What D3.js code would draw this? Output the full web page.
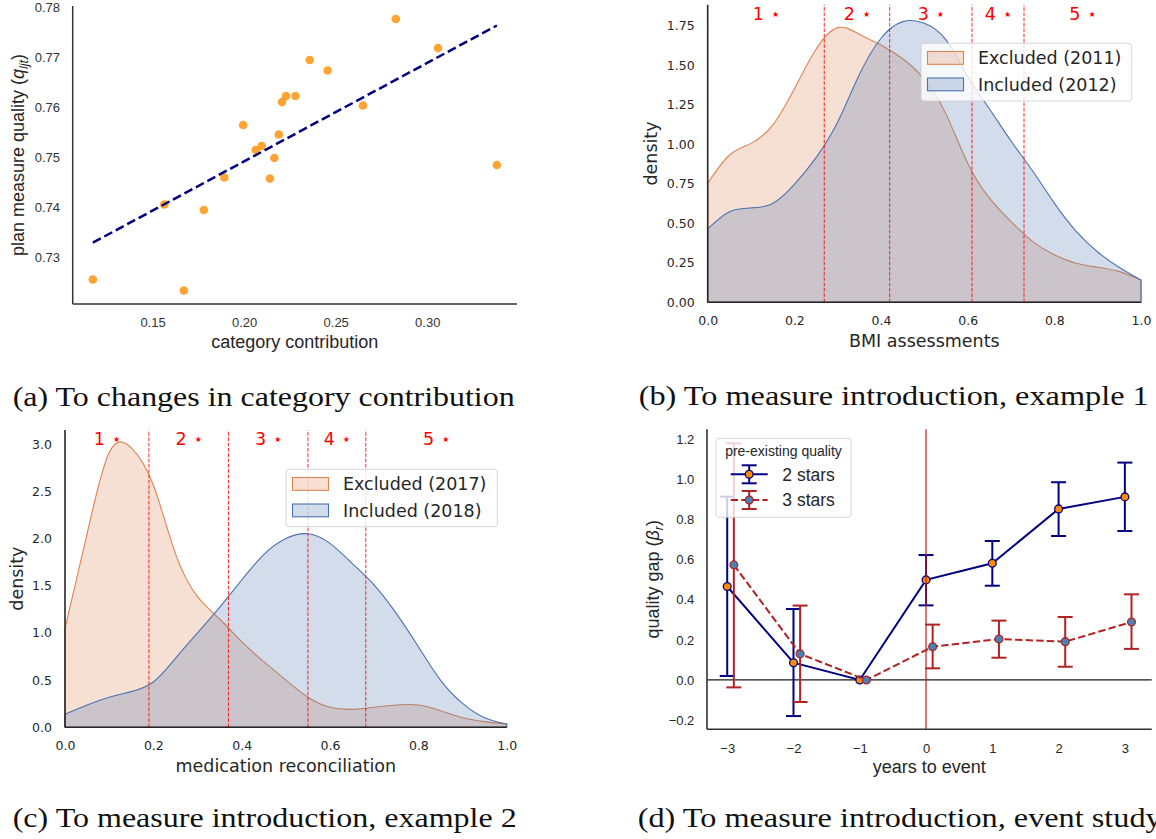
<!DOCTYPE html>
<html>
<head>
<meta charset="utf-8">
<script src="https://cdn.jsdelivr.net/npm/d3@7"></script>
<style>
  body { margin: 0; background: #fff; }
  svg { display: block; }
</style>
</head>
<body>
<svg id="fig" width="1156" height="839"></svg>
<script>
// ---------- data ----------
// (a) category contribution vs plan measure quality
var contribution = [0.1174, 0.1671, 0.1564, 0.1780, 0.1892, 0.1995, 0.2063, 0.2096, 0.2141, 0.2165,
                    0.2189, 0.2207, 0.2229, 0.2280, 0.2358, 0.2456, 0.2649, 0.2828, 0.3059, 0.3380];
var measureQuality = [0.7256, 0.7234, 0.7406, 0.7395, 0.7460, 0.7565, 0.7515, 0.7523, 0.7458, 0.7499,
                      0.7546, 0.7611, 0.7623, 0.7623, 0.7695, 0.7674, 0.7604, 0.7777, 0.7719, 0.7485];
var aTicksX = [0.15, 0.20, 0.25, 0.30];
var aTicksY = [0.73, 0.74, 0.75, 0.76, 0.77, 0.78];

// (b), (c) kernel densities read on a grid
var densityX = [0, 0.05, 0.1, 0.15, 0.2, 0.25, 0.3, 0.35, 0.4, 0.45, 0.5,
                0.55, 0.6, 0.65, 0.7, 0.75, 0.8, 0.85, 0.9, 0.95, 1.0];
var bmiExcluded = [0.753, 0.93, 1.005, 1.12, 1.35, 1.60, 1.737, 1.695, 1.627, 1.54, 1.41,
                   1.19, 0.88, 0.66, 0.51, 0.384, 0.30, 0.247, 0.222, 0.194, 0.141];
var bmiIncluded = [0.464, 0.573, 0.597, 0.625, 0.745, 0.915, 1.14, 1.44, 1.67, 1.775, 1.765,
                   1.66, 1.43, 1.224, 1.02, 0.83, 0.627, 0.45, 0.318, 0.22, 0.141];
var bmiCutoffs = [0.269, 0.42, 0.61, 0.73];
var bmiLegend = ["Excluded (2011)", "Included (2012)"];
var bTicksY = [0, 0.25, 0.5, 0.75, 1.0, 1.25, 1.5, 1.75];

var medExcluded = [1.048, 2.05, 2.91, 2.96, 2.566, 1.84, 1.384, 1.147, 0.907, 0.695, 0.50,
                   0.318, 0.212, 0.19, 0.212, 0.236, 0.236, 0.176, 0.102, 0.06, 0.032];
var medIncluded = [0.138, 0.236, 0.318, 0.378, 0.48, 0.73, 1.00, 1.27, 1.56, 1.83, 2.0,
                   2.05, 1.948, 1.737, 1.507, 1.207, 0.854, 0.50, 0.254, 0.102, 0.035];
var medCutoffs = [0.19, 0.37, 0.55, 0.681];
var medLegend = ["Excluded (2017)", "Included (2018)"];
var cTicksY = [0, 0.5, 1.0, 1.5, 2.0, 2.5, 3.0];

var densTicksX = [0, 0.2, 0.4, 0.6, 0.8, 1.0];
var starLabels = ["1", "2", "3", "4", "5"];

// (d) event study
var yearsToEvent = [-3, -2, -1, 0, 1, 2, 3];
var twoStars     = [0.466, 0.086, 0, 0.499, 0.582, 0.853, 0.913];
var twoStarsLow  = [0.02, -0.18, null, 0.372, 0.47, 0.718, 0.743];
var twoStarsHigh = [0.914, 0.354, null, 0.623, 0.693, 0.986, 1.084];
var threeStars     = [0.574, 0.13, 0, 0.166, 0.204, 0.191, 0.289];
var threeStarsLow  = [-0.037, -0.11, null, 0.058, 0.111, 0.066, 0.155];
var threeStarsHigh = [1.18, 0.371, null, 0.276, 0.296, 0.314, 0.427];
var threeStarsShift = 0.1;
var dTicksY = [-0.2, 0, 0.2, 0.4, 0.6, 0.8, 1.0, 1.2];
var dLegendTitle = "pre-existing quality";
var dLegend = ["2 stars", "3 stars"];

var captions = [
  "(a) To changes in category contribution",
  "(b) To measure introduction, example 1",
  "(c) To measure introduction, example 2",
  "(d) To measure introduction, event study"
];

// ---------- helpers ----------
var ARIAL = "'Liberation Sans', Arial, sans-serif";
var DEJAVU = "'DejaVu Sans', sans-serif";
var SERIF = "'Liberation Serif', 'Times New Roman', serif";
var ORANGE = "#dd8452", BLUE = "#4c72b0";

var svg = d3.select("#fig");

function spines(g, x, y, color, width) {
  var x0 = x.range()[0], x1 = x.range()[1], y0 = y.range()[0], y1 = y.range()[1];
  g.append("line").attr("x1", x0).attr("x2", x0).attr("y1", y0).attr("y2", y1)
    .attr("stroke", color).attr("stroke-width", width);
  g.append("line").attr("x1", x0).attr("x2", x1).attr("y1", y0).attr("y2", y0)
    .attr("stroke", color).attr("stroke-width", width);
}

function axis(g, ax, font, size, color) {
  g.call(ax);
  g.select(".domain").remove();
  g.attr("font-family", font).attr("font-size", size).attr("color", color);
}

// ---------- (a) scatter with fit ----------
var xA = d3.scaleLinear().domain([0.1064, 0.349]).range([72.7, 517]);
var yA = d3.scaleLinear().domain([0.7207, 0.7803]).range([304, 6]);
var gA = svg.append("g");

gA.append("g").attr("transform", "translate(0,304)")
  .call(function(g) {
    axis(g, d3.axisBottom(xA).tickValues(aTicksX).tickSize(0).tickPadding(14)
      .tickFormat(d3.format(".2f")), ARIAL, 13, "#333");
  });
gA.append("g").attr("transform", "translate(72.7,0)")
  .call(function(g) {
    axis(g, d3.axisLeft(yA).tickValues(aTicksY).tickSize(0).tickPadding(12.7)
      .tickFormat(d3.format(".2f")), ARIAL, 13, "#333");
  });

gA.selectAll(".dot")
  .data(contribution)
  .enter().append("circle")
    .attr("class", "dot")
    .attr("cx", function(d) { return xA(d); })
    .attr("cy", function(d, i) { return yA(measureQuality[i]); })
    .attr("r", 4.3)
    .style("fill", "#ff8c00")
    .style("fill-opacity", 0.8);

// least squares fit, drawn across the data range
var mx = d3.mean(contribution), my = d3.mean(measureQuality);
var slope = d3.sum(contribution, function(v, i) { return (v - mx) * (measureQuality[i] - my); }) /
            d3.sum(contribution, function(v) { return (v - mx) * (v - mx); });
var fitX = d3.extent(contribution);
gA.append("path")
  .datum(fitX)
  .attr("d", d3.line()
    .x(function(d) { return xA(d); })
    .y(function(d) { return yA(my + slope * (d - mx)); }))
  .attr("fill", "none")
  .attr("stroke", "#000080")
  .attr("stroke-width", 2.5)
  .attr("stroke-dasharray", "9,4");

spines(gA, xA, yA, "#333", 1.5);

gA.append("text")
  .attr("x", 294.8).attr("y", 348)
  .attr("text-anchor", "middle")
  .attr("font-family", ARIAL).attr("font-size", 18).attr("fill", "#262626")
  .text("category contribution");

var yLabA = gA.append("text")
  .attr("transform", "translate(23.5,155) rotate(-90)")
  .attr("text-anchor", "middle")
  .attr("font-family", ARIAL).attr("font-size", 18).attr("fill", "#262626");
yLabA.append("tspan").text("plan measure quality (");
yLabA.append("tspan").attr("font-style", "italic").text("q");
yLabA.append("tspan").attr("font-style", "italic").attr("font-size", 12.5).attr("dy", 4).text("ljt");
yLabA.append("tspan").attr("dy", -4).text(")");

// ---------- (b), (c) density panels ----------
function densityPanel(opt) {
  var x = d3.scaleLinear().domain([0, 1]).range(opt.xr);
  var y = d3.scaleLinear().domain([0, opt.ymax]).range(opt.yr);
  var g = svg.append("g");

  var area = d3.area()
    .x(function(d, i) { return x(densityX[i]); })
    .y0(y(0))
    .y1(function(d) { return y(d); })
    .curve(d3.curveNatural);

  [[opt.excluded, ORANGE], [opt.included, BLUE]].forEach(function(s) {
    g.append("path")
      .datum(s[0])
      .attr("d", area)
      .attr("fill", s[1]).attr("fill-opacity", 0.25)
      .attr("stroke", s[1]).attr("stroke-width", 1.1);
  });

  // star rating cut-offs
  g.selectAll(".cut")
    .data(opt.cuts)
    .enter().append("line")
      .attr("class", "cut")
      .attr("x1", function(d) { return x(d); })
      .attr("x2", function(d) { return x(d); })
      .attr("y1", y.range()[0])
      .attr("y2", y.range()[1])
      .attr("stroke", "#ff0000").attr("stroke-opacity", 0.85)
      .attr("stroke-width", 1)
      .attr("stroke-dasharray", "3.7,1.6");

  var edges = [0].concat(opt.cuts, [1]);
  var labs = g.selectAll(".star")
    .data(starLabels)
    .enter().append("text")
      .attr("class", "star")
      .attr("x", function(d, i) { return x((edges[i] + edges[i + 1]) / 2); })
      .attr("y", opt.starY)
      .attr("text-anchor", "middle")
      .attr("font-family", DEJAVU).attr("fill", "#ff0000");
  labs.append("tspan").attr("font-size", 17.5).text(function(d) { return d; });
  labs.append("tspan").attr("font-size", 8).attr("dx", 8).attr("dy", -3.5).text("\u2605");

  g.append("g").attr("transform", "translate(0," + opt.yr[0] + ")")
    .call(function(a) {
      axis(a, d3.axisBottom(x).tickValues(densTicksX).tickSize(0).tickPadding(opt.padX)
        .tickFormat(d3.format(".1f")), DEJAVU, 12.5, "#262626");
    });
  g.append("g").attr("transform", "translate(" + opt.xr[0] + ",0)")
    .call(function(a) {
      axis(a, d3.axisLeft(y).tickValues(opt.ticksY).tickSize(0).tickPadding(13)
        .tickFormat(d3.format(opt.fmtY)), DEJAVU, 12.5, "#262626");
    });

  spines(g, x, y, "#262626", 1.6);

  // legend
  var L = opt.legend;
  g.append("rect")
    .attr("x", L.x).attr("y", L.y).attr("width", L.w).attr("height", L.h)
    .attr("rx", 3)
    .attr("fill", "#fff").attr("fill-opacity", 0.8)
    .attr("stroke", "#ccc").attr("stroke-opacity", 0.8);
  opt.names.forEach(function(name, i) {
    var c = i === 0 ? ORANGE : BLUE;
    var py = L.y + 8.2 + i * 26.5;
    g.append("rect")
      .attr("x", L.x + 6.5).attr("y", py).attr("width", 36).attr("height", 12.8)
      .attr("fill", c).attr("fill-opacity", 0.25)
      .attr("stroke", c).attr("stroke-width", 1.1);
    g.append("text")
      .attr("x", L.x + 57).attr("y", py + 12.8)
      .attr("font-family", DEJAVU).attr("font-size", 17.5).attr("fill", "#262626")
      .text(name);
  });

  g.append("text")
    .attr("x", (opt.xr[0] + opt.xr[1]) / 2).attr("y", opt.labelY)
    .attr("text-anchor", "middle")
    .attr("font-family", DEJAVU).attr("font-size", 17.5).attr("fill", "#262626")
    .text(opt.xlabel);
  g.append("text")
    .attr("transform", "translate(" + opt.ylabX + "," + (opt.yr[0] + opt.yr[1]) / 2 + ") rotate(-90)")
    .attr("text-anchor", "middle")
    .attr("font-family", DEJAVU).attr("font-size", 17.5).attr("fill", "#262626")
    .text("density");
}

densityPanel({
  xr: [707.7, 1141], yr: [302.3, 4.7], ymax: 1.882,
  excluded: bmiExcluded, included: bmiIncluded, cuts: bmiCutoffs,
  ticksY: bTicksY, fmtY: ".2f", padX: 14,
  starY: 20, labelY: 346.7, ylabX: 657, xlabel: "BMI assessments",
  names: bmiLegend, legend: {x: 921, y: 43.3, w: 210.7, h: 57.7}
});

densityPanel({
  xr: [65, 506.7], yr: [727.3, 430], ymax: 3.149,
  excluded: medExcluded, included: medIncluded, cuts: medCutoffs,
  ticksY: cTicksY, fmtY: ".1f", padX: 13.4,
  starY: 445, labelY: 772.3, ylabX: 23, xlabel: "medication reconciliation",
  names: medLegend, legend: {x: 286, y: 469.3, w: 211.3, h: 57.4}
});

// ---------- (d) event study ----------
var xD = d3.scaleLinear().domain([-3.305, 3.405]).range([707, 1151.7]);
var yD = d3.scaleLinear().domain([-0.246, 1.25]).range([729.3, 429.3]);
var gD = svg.append("g");

gD.append("g").attr("transform", "translate(0,729.3)")
  .call(function(g) {
    axis(g, d3.axisBottom(xD).tickValues(yearsToEvent).tickSize(0).tickPadding(14.5)
      .tickFormat(d3.format("d")), ARIAL, 13, "#262626");
  });
gD.append("g").attr("transform", "translate(707,0)")
  .call(function(g) {
    axis(g, d3.axisLeft(yD).tickValues(dTicksY).tickSize(0).tickPadding(12.7)
      .tickFormat(d3.format(".1f")), ARIAL, 13, "#262626");
  });

// zero line
gD.append("line")
  .attr("x1", xD.range()[0]).attr("x2", xD.range()[1])
  .attr("y1", yD(0)).attr("y2", yD(0))
  .attr("stroke", "#1a1a1a").attr("stroke-width", 1.3);

function eventSeries(vals, lo, hi, shift, color, face, dash) {
  var pts = yearsToEvent.map(function(t, i) {
    return {x: t + shift, y: vals[i], lo: lo[i], hi: hi[i]};
  });
  var bars = pts.filter(function(p) { return p.lo !== null; });
  gD.selectAll(null).data(bars).enter().append("line")
    .attr("x1", function(p) { return xD(p.x); }).attr("x2", function(p) { return xD(p.x); })
    .attr("y1", function(p) { return yD(p.lo); }).attr("y2", function(p) { return yD(p.hi); })
    .attr("stroke", color).attr("stroke-width", 2);
  ["lo", "hi"].forEach(function(k) {
    gD.selectAll(null).data(bars).enter().append("line")
      .attr("x1", function(p) { return xD(p.x) - 7.5; }).attr("x2", function(p) { return xD(p.x) + 7.5; })
      .attr("y1", function(p) { return yD(p[k]); }).attr("y2", function(p) { return yD(p[k]); })
      .attr("stroke", color).attr("stroke-width", 2);
  });
  gD.append("path").datum(pts)
    .attr("d", d3.line().x(function(p) { return xD(p.x); }).y(function(p) { return yD(p.y); }))
    .attr("fill", "none").attr("stroke", color).attr("stroke-width", 2)
    .attr("stroke-dasharray", dash);
  gD.selectAll(null).data(pts).enter().append("circle")
    .attr("cx", function(p) { return xD(p.x); })
    .attr("cy", function(p) { return yD(p.y); })
    .attr("r", 3.9)
    .attr("fill", face).attr("stroke", color).attr("stroke-width", 1.3);
}

eventSeries(twoStars, twoStarsLow, twoStarsHigh, 0, "#000080", "#ff8c00", null);
eventSeries(threeStars, threeStarsLow, threeStarsHigh, threeStarsShift, "#b22222", "#4682b4", "7.4,3.2");

// event marker
gD.append("line")
  .attr("x1", xD(0)).attr("x2", xD(0))
  .attr("y1", yD.range()[0]).attr("y2", yD.range()[1])
  .attr("stroke", "#b22222").attr("stroke-opacity", 0.6).attr("stroke-width", 2);

spines(gD, xD, yD, "#333", 1.6);

// legend
gD.append("rect")
  .attr("x", 716).attr("y", 438.3).attr("width", 135).attr("height", 79)
  .attr("rx", 3)
  .attr("fill", "#fff").attr("fill-opacity", 0.8)
  .attr("stroke", "#ccc").attr("stroke-opacity", 0.8);
gD.append("text")
  .attr("x", 783.5).attr("y", 456)
  .attr("text-anchor", "middle")
  .attr("font-family", ARIAL).attr("font-size", 14).attr("fill", "#262626")
  .text(dLegendTitle);
[["#000080", "#ff8c00", null], ["#b22222", "#4682b4", "7.4,3.2"]].forEach(function(s, i) {
  var cy = 474.3 + i * 25.7, cx = 749.2;
  gD.append("line").attr("x1", 730.7).attr("x2", 767.7).attr("y1", cy).attr("y2", cy)
    .attr("stroke", s[0]).attr("stroke-width", 2).attr("stroke-dasharray", s[2]);
  gD.append("line").attr("x1", cx).attr("x2", cx).attr("y1", cy - 9).attr("y2", cy + 9)
    .attr("stroke", s[0]).attr("stroke-width", 2);
  [-9, 9].forEach(function(o) {
    gD.append("line").attr("x1", cx - 7.5).attr("x2", cx + 7.5).attr("y1", cy + o).attr("y2", cy + o)
      .attr("stroke", s[0]).attr("stroke-width", 2);
  });
  gD.append("circle").attr("cx", cx).attr("cy", cy).attr("r", 3.9)
    .attr("fill", s[1]).attr("stroke", s[0]).attr("stroke-width", 1.3);
  gD.append("text")
    .attr("x", 782.3).attr("y", cy + 6.3)
    .attr("font-family", ARIAL).attr("font-size", 17.5).attr("fill", "#262626")
    .text(dLegend[i]);
});

gD.append("text")
  .attr("x", 929.3).attr("y", 772.5)
  .attr("text-anchor", "middle")
  .attr("font-family", ARIAL).attr("font-size", 18).attr("fill", "#262626")
  .text("years to event");
var yLabD = gD.append("text")
  .attr("transform", "translate(659,579.3) rotate(-90)")
  .attr("text-anchor", "middle")
  .attr("font-family", ARIAL).attr("font-size", 18).attr("fill", "#262626");
yLabD.append("tspan").text("quality gap (");
yLabD.append("tspan").attr("font-style", "italic").text("\u03b2");
yLabD.append("tspan").attr("font-style", "italic").attr("font-size", 12.5).attr("dy", 4).text("r");
yLabD.append("tspan").attr("dy", -4).text(")");

// ---------- captions ----------
var capPos = [[12.7, 406, 502], [638.7, 405.3, 510], [12.7, 827, 504], [637.7, 827, 524]];
svg.selectAll(".caption")
  .data(captions)
  .enter().append("text")
    .attr("class", "caption")
    .attr("x", function(d, i) { return capPos[i][0]; })
    .attr("y", function(d, i) { return capPos[i][1]; })
    .attr("textLength", function(d, i) { return capPos[i][2]; })
    .attr("lengthAdjust", "spacingAndGlyphs")
    .attr("font-family", SERIF).attr("font-size", 27).attr("fill", "#111")
    .text(function(d) { return d; });
</script>
</body>
</html>
